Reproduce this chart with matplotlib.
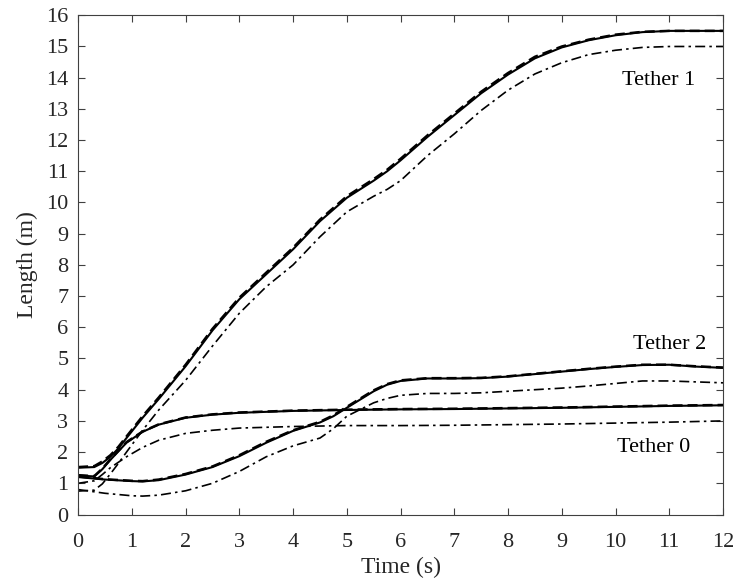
import matplotlib
matplotlib.use("Agg")
import matplotlib.pyplot as plt

# ---- data ----
t1 = [0, 0.3, 0.45, 0.6, 0.75, 0.9, 1.2, 1.5, 2, 2.5, 3, 3.5, 4, 4.5, 5, 5.5, 5.75, 6, 6.5, 7, 7.5, 8, 8.5, 9, 9.5, 10, 10.5, 11, 11.5, 12]
tether1_solid = [1.5, 1.52, 1.65, 1.85, 2.12, 2.45, 3.1, 3.7, 4.75, 5.9, 6.9, 7.7, 8.5, 9.4, 10.15, 10.7, 11.0, 11.35, 12.1, 12.8, 13.5, 14.1, 14.62, 14.97, 15.2, 15.36, 15.46, 15.5, 15.5, 15.5]
tether1_dash = [1.52, 1.55, 1.7, 1.9, 2.17, 2.5, 3.15, 3.75, 4.8, 5.95, 6.95, 7.75, 8.55, 9.45, 10.2, 10.75, 11.05, 11.4, 12.15, 12.85, 13.55, 14.15, 14.67, 15.0, 15.22, 15.38, 15.47, 15.5, 15.5, 15.5]
tether1_dd = [0.75, 0.78, 0.98, 1.3, 1.64, 2.0, 2.7, 3.35, 4.3, 5.4, 6.45, 7.3, 8.0, 8.9, 9.7, 10.2, 10.42, 10.7, 11.5, 12.2, 12.95, 13.6, 14.12, 14.48, 14.74, 14.88, 14.97, 15.0, 15.0, 15.0]

t2 = [0, 0.5, 1, 1.2, 1.5, 2, 2.5, 3, 3.5, 4, 4.5, 4.75, 5, 5.5, 5.75, 6, 6.5, 7, 7.5, 8, 8.5, 9, 9.5, 10, 10.5, 11, 11.5, 12]
tether2_solid = [1.2, 1.12, 1.07, 1.06, 1.1, 1.28, 1.52, 1.87, 2.3, 2.68, 2.95, 3.15, 3.42, 3.95, 4.16, 4.28, 4.36, 4.36, 4.37, 4.42, 4.5, 4.58, 4.66, 4.73, 4.79, 4.8, 4.74, 4.7]
tether2_dash = [1.22, 1.13, 1.08, 1.07, 1.12, 1.3, 1.54, 1.9, 2.33, 2.7, 2.97, 3.18, 3.45, 3.98, 4.18, 4.3, 4.37, 4.37, 4.38, 4.43, 4.51, 4.59, 4.67, 4.74, 4.8, 4.8, 4.75, 4.71]
tether2_dd = [0.8, 0.68, 0.6, 0.59, 0.62, 0.76, 1.0, 1.38, 1.85, 2.2, 2.45, 2.75, 3.15, 3.58, 3.72, 3.82, 3.88, 3.88, 3.9, 3.95, 4.0, 4.05, 4.12, 4.2, 4.28, 4.28, 4.25, 4.22]

t0 = [0, 0.3, 0.45, 0.6, 0.9, 1.2, 1.5, 2, 2.5, 3, 4, 5, 6, 7, 8, 9, 10, 11, 12]
tether0_solid = [1.25, 1.22, 1.45, 1.75, 2.3, 2.65, 2.88, 3.1, 3.2, 3.26, 3.32, 3.35, 3.37, 3.38, 3.4, 3.42, 3.45, 3.48, 3.5]
tether0_dash = [1.26, 1.23, 1.47, 1.77, 2.32, 2.66, 2.89, 3.11, 3.21, 3.27, 3.33, 3.36, 3.38, 3.39, 3.41, 3.43, 3.46, 3.49, 3.51]
tether0_dd = [1.0, 1.08, 1.28, 1.5, 1.85, 2.15, 2.38, 2.6, 2.7, 2.77, 2.82, 2.85, 2.85, 2.86, 2.88, 2.9, 2.93, 2.96, 3.0]

labels = ["Tether 1", "Tether 2", "Tether 0"]
label_pos = [(10.8, 13.9), (11.0, 5.45), (10.7, 2.15)]

xticks = list(range(0, 13))
yticks = list(range(0, 17))

# ---- plot ----
plt.rcParams['font.family'] = ['Liberation Serif', 'DejaVu Serif']
fig = plt.figure(figsize=(7.37, 5.88), dpi=100)
ax = fig.add_axes([0.106, 0.125, 0.875, 0.849])

for t, s, d, dd in [(t1, tether1_solid, tether1_dash, tether1_dd),
                    (t2, tether2_solid, tether2_dash, tether2_dd),
                    (t0, tether0_solid, tether0_dash, tether0_dd)]:
    ax.plot(t, d, color='black', lw=1.8, ls=(0, (4, 2)))
    ax.plot(t, s, color='black', lw=1.5, ls='-')
    ax.plot(t, dd, color='black', lw=1.2, ls=(0, (6, 2.5, 1.5, 2.5)))

for lab, (x, y) in zip(labels, label_pos):
    ax.text(x, y, lab, ha='center', va='center', fontsize=16, color='black')

ax.set_xlim(0, 12)
ax.set_ylim(0, 16)
ax.set_xticks(xticks)
ax.set_yticks(yticks)
ax.tick_params(direction='in', top=True, right=True, length=5, width=0.8,
               labelsize=16, colors='#404040', labelcolor='#262626')
ax.tick_params(axis='x', pad=13)
ax.tick_params(axis='y', pad=7)
for sp in ax.spines.values():
    sp.set_color('#404040')
    sp.set_linewidth(0.8)
ax.set_xlabel('Time (s)', fontsize=17, color='#262626', labelpad=4)
ax.set_ylabel('Length (m)', fontsize=17, color='#262626', labelpad=6)

fig.savefig('out.png', dpi=100)
